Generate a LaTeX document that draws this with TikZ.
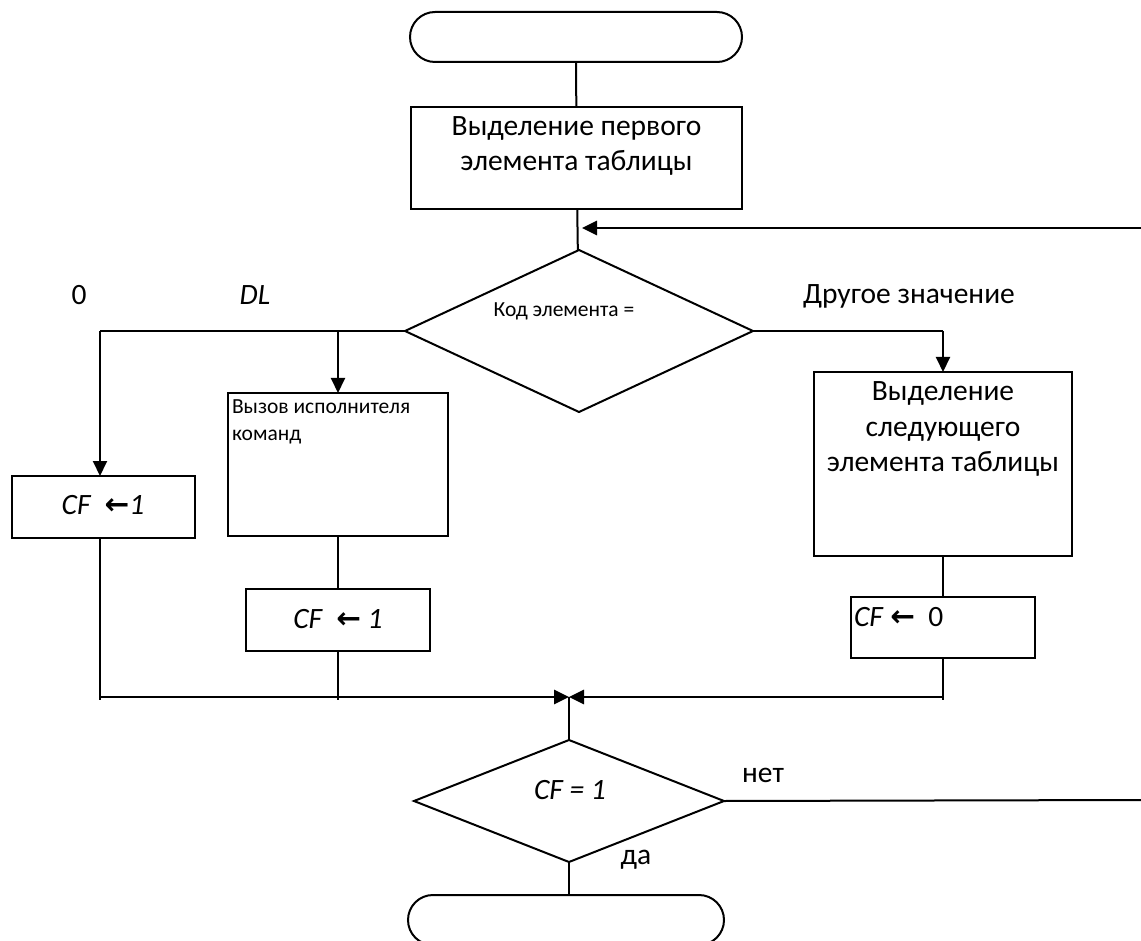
\documentclass[tikz,border=0pt]{standalone}
\usepackage{fontspec}
\setmainfont{Carlito}
\newfontfamily\arrowfont{DejaVu Sans}
\usetikzlibrary{shapes.geometric,shapes.misc,arrows.meta}
\newcommand{\bigtxt}{\fontsize{29.5}{35.5}\selectfont}
\newcommand{\smalltxt}{\fontsize{21.5}{26.5}\selectfont}
\newcommand{\larr}{{\arrowfont\bfseries ←}}

\begin{document}
\begin{tikzpicture}[x=1pt,y=-1pt,line width=2pt,
		blok/.style={draw,rectangle,outer sep=0pt,inner sep=0pt},
		term/.style={draw,rounded rectangle,outer sep=0pt,inner sep=0pt,minimum height=50pt},
		romb/.style={draw,diamond,outer sep=0pt,inner sep=0pt},
		flow/.style={-{Triangle[length=15pt,width=14pt]}},
		heavy/.style={line width=2.8pt},
		txt/.style={inner sep=0pt,font=\bigtxt,align=center}]
				\path[use as bounding box,fill=white] (0,0) rectangle (1141,941);
				\clip (0,0) rectangle (1141,941);
				\node[term,minimum width=332pt] (start) at (576,37) {};
				\node[blok,minimum width=331pt,minimum height=102pt] (first) at (576.5,158) {};
				\node[romb,minimum width=348pt,minimum height=162pt] (cond) at (579,331) {};
				\node[blok,minimum width=183pt,minimum height=62pt] (cfa) at (103.5,507) {};
				\node[blok,minimum width=220pt,minimum height=143pt] (call) at (338,464.5) {};
				\node[blok,minimum width=184pt,minimum height=62pt] (cfb) at (338,620) {};
				\node[blok,minimum width=258pt,minimum height=184pt] (next) at (943,464) {};
				\node[blok,minimum width=184pt,minimum height=61pt] (cfc) at (943,627.5) {};
				\node[romb,minimum width=310pt,minimum height=122pt] (check) at (569,801) {};
				\node[term,minimum width=316pt] (end) at (566,920) {};
				\coordinate (loopin) at (582,228);
				\coordinate (loopout) at (1141,228);
				\coordinate (zero) at (100,331);
				\coordinate (dl) at (338,331);
				\coordinate (other) at (943,331);
				\coordinate (merge) at (569,697);
				\coordinate (noexit) at (1141,800);
				\draw (start) -- (first);
				\draw (first) -- (cond);
				\draw[heavy,flow] (loopout) -- (loopin);
				\draw (cond.west) -- (zero);
				\draw[flow] (zero) -- (zero |- cfa.north);
				\draw[flow] (dl) -- (call.north);
				\draw (cond.east) -- (other);
				\draw[flow] (other) -- (next.north);
				\draw (call) -- (cfb);
				\draw (next) -- (cfc);
				\draw (zero |- cfa.south) -- ([yshift=-3pt]zero |- merge);
				\draw (cfb.south) -- ([yshift=-3pt]cfb.south |- merge);
				\draw (cfc.south) -- ([yshift=-3pt]cfc.south |- merge);
				\draw[heavy,flow] (zero |- merge) -- (merge);
				\draw[heavy,flow] (cfc.south |- merge) -- (merge);
				\draw (merge) -- (check.north);
				\draw (check.east) -- (noexit);
				\draw (check.south) -- (check.south |- end.north);
				\node[txt] (firsttxt) at (576.5,146) {Выделение первого\\элемента таблицы};
				\node[txt,font=\smalltxt] (condtxt) at (564,311) {Код элемента =};
				\node[txt] (lblzero) at (79,295) {0};
				\node[txt] (lbldl) at (255,295) {\textit{DL}};
				\node[txt] (lblother) at (909,296) {Другое значение};
				\node[txt] (cfatxt) at (103,505) {\textit{CF}\ \ \larr\textit{1}};
				\node[txt,font=\smalltxt,align=left,anchor=north west] (calltxt) at (231,399) {Вызов исполнителя\\команд};
				\node[txt] (cfbtxt) at (338,619) {\textit{CF}\ \ \larr\ \textit{1}};
				\node[txt] (nexttxt) at (943,429) {Выделение\\следующего\\элемента таблицы};
				\node[txt,anchor=west] (cfctxt) at (853,617) {\textit{CF} \larr\ \ 0};
				\node[txt] (checktxt) at (570,790) {\textit{CF = 1}};
				\node[txt] (lblno) at (763,775) {нет};
				\node[txt] (lblyes) at (636,860) {да};
			\end{tikzpicture}
\end{document}
